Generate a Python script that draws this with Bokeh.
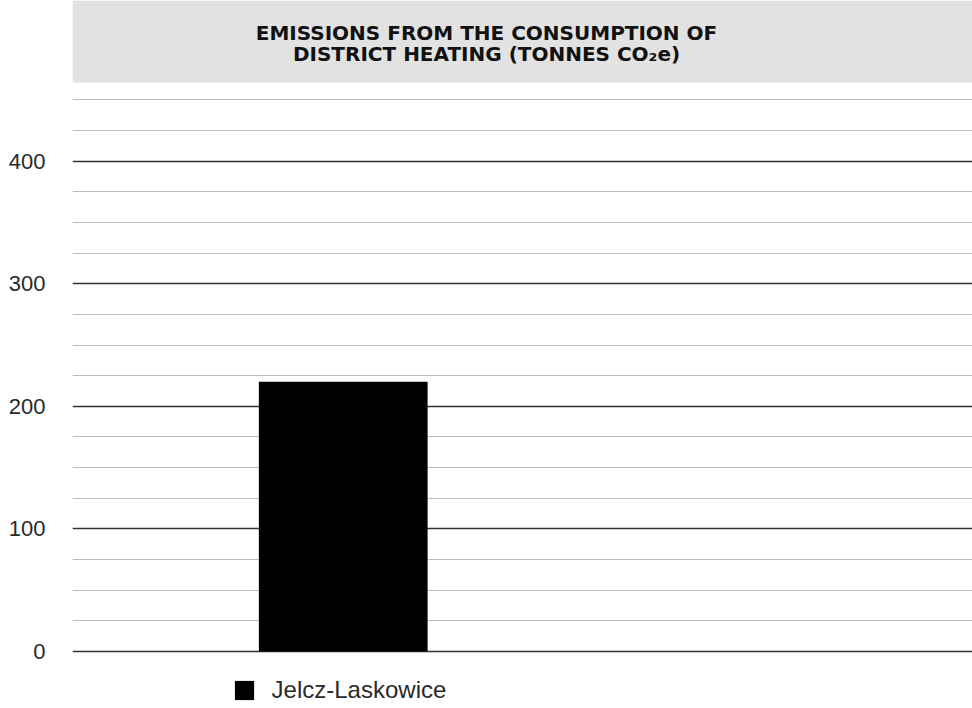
from bokeh.plotting import figure
from bokeh.models import (Range1d, FixedTicker, BoxAnnotation, Label, Legend)
from bokeh.embed import file_html
from bokeh.resources import INLINE

# ---- data ----
categories = ["Jelcz-Laskowice"]
values = [220]
major_ticks = [0, 100, 200, 300, 400]
minor_ticks = [25, 50, 75, 125, 150, 175, 225, 250, 275, 325, 350, 375, 425, 450]
title_lines = ["EMISSIONS FROM THE CONSUMPTION OF", "DISTRICT HEATING (TONNES CO\u2082e)"]

W, H = 972, 708
p = figure(width=W, height=H, output_backend="svg", toolbar_location=None,
           x_range=Range1d(-1.2837, 2.9837), y_range=Range1d(-46.5, 531.1),
           min_border_left=72, min_border_right=0, min_border_top=0,
           min_border_bottom=0)
p.outline_line_color = None
p.background_fill_color = "white"
p.border_fill_color = "white"

xs = list(range(len(categories)))
r = p.vbar(x=xs, top=values, width=0.8, color="black", line_color=None)

p.xaxis.visible = False
yax = p.yaxis[0]
yax.ticker = FixedTicker(ticks=major_ticks, minor_ticks=minor_ticks)
yax.axis_line_color = None
yax.major_tick_line_color = None
yax.minor_tick_line_color = None
yax.major_label_standoff = 21
yax.major_label_text_font = "Liberation Sans"
yax.major_label_text_font_size = "22px"
yax.major_label_text_color = "#2a2a2a"

p.xgrid.visible = False
g = p.ygrid[0]
g.ticker = FixedTicker(ticks=major_ticks, minor_ticks=minor_ticks)
g.grid_line_color = "#333333"
g.grid_line_width = 1.6
g.minor_grid_line_color = "#bdbdbd"
g.minor_grid_line_width = 1

# title box
box = BoxAnnotation(bottom=464.2, fill_color="#e2e2e2", fill_alpha=1.0,
                    line_color=None)
p.add_layout(box)
xc = -1.2837 + (486 - 72) / 900 * 4.2674
for txt, yv in zip(title_lines, [504.5, 487.5]):
    p.add_layout(Label(x=xc, y=yv, text=txt, text_align="center",
                       text_baseline="middle", text_font="DejaVu Sans",
                       text_font_style="bold", text_font_size="20px",
                       text_color="#111111"))

leg = Legend(items=[(categories[0], [r])], location=(159.6, 4),
             glyph_width=24, glyph_height=24, label_standoff=16,
             padding=0, margin=0, border_line_color=None,
             background_fill_alpha=0, label_text_font="Liberation Sans",
             label_text_font_size="24px", label_text_color="#2a2a2a")
p.add_layout(leg, "center")

open("out.html", "w").write(file_html(p, INLINE))
